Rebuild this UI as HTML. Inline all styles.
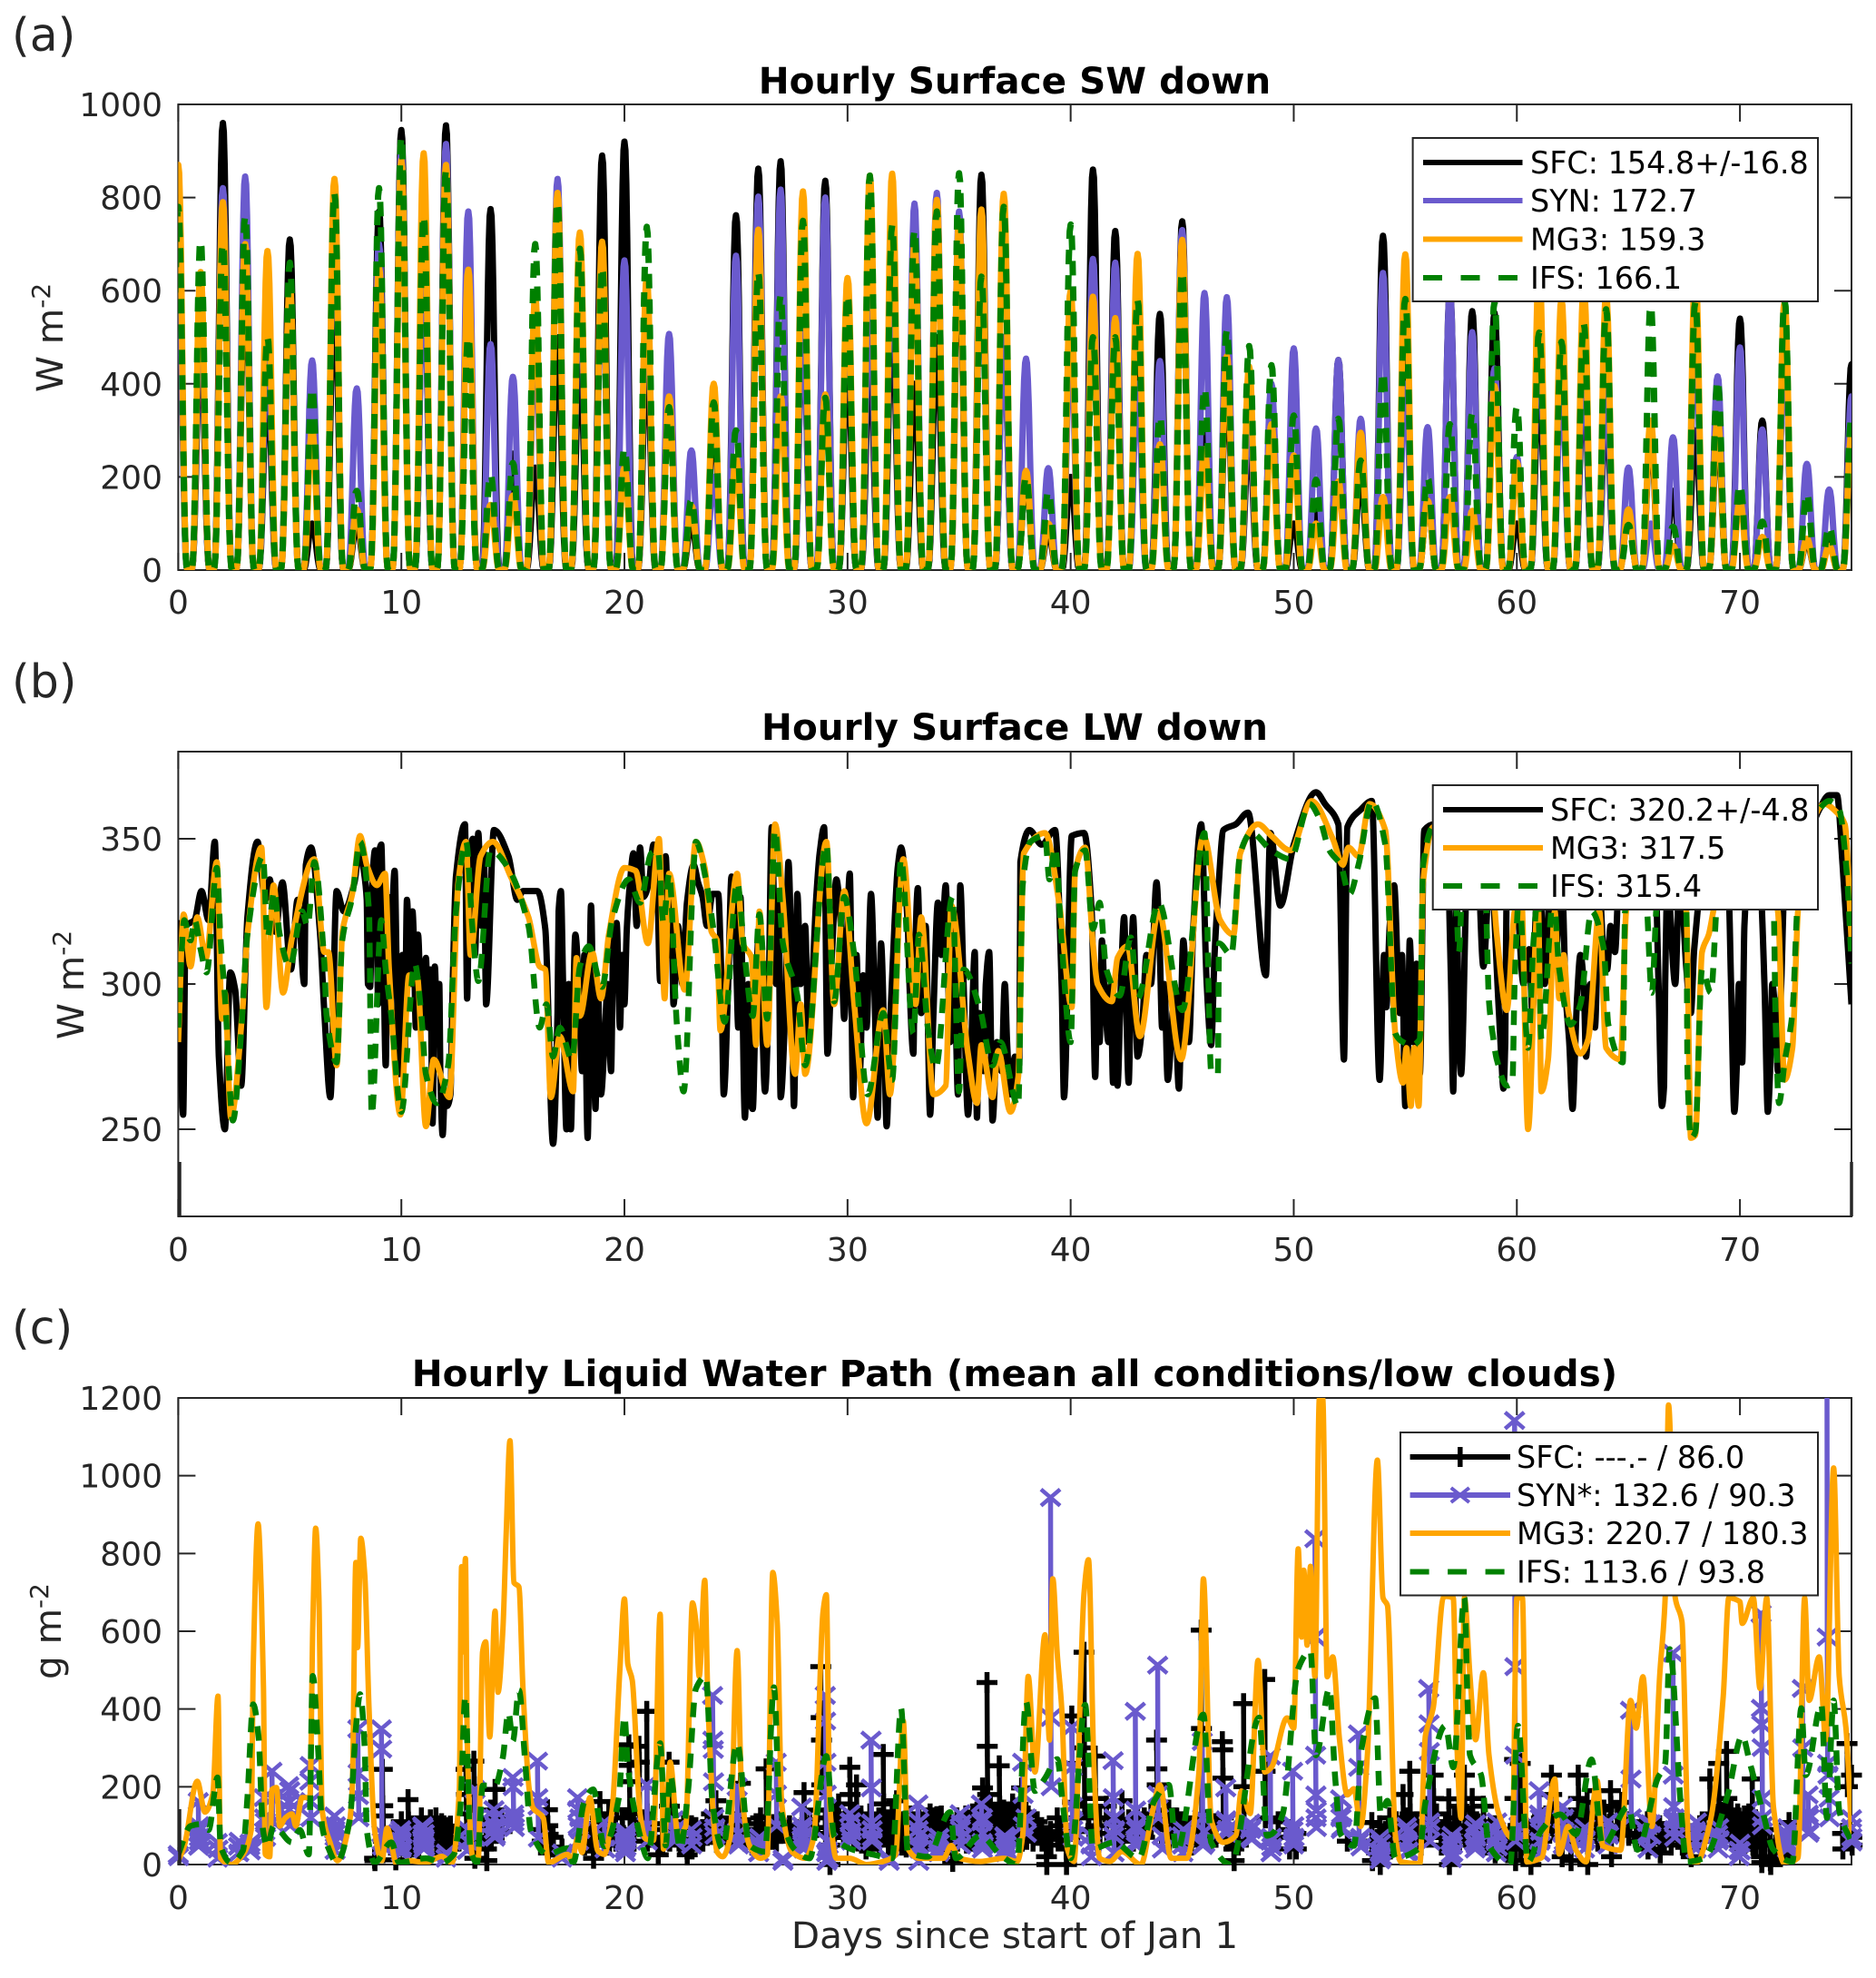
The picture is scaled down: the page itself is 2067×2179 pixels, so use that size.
<!DOCTYPE html>
<html lang="en">
<head>
<meta charset="utf-8">
<title>Hourly surface radiation and liquid water path</title>
<style>
html,body{margin:0;padding:0;background:#fff;}
svg{display:block;font-family:"DejaVu Sans","Liberation Sans",sans-serif;}
.tick-label{font-size:36px;fill:#262626;}
.title{font-size:40.5px;font-weight:bold;fill:#000;text-anchor:middle;}
.axis-title{font-size:40.5px;fill:#262626;text-anchor:middle;}
.panel-label{font-size:50.5px;fill:#262626;}
.legend-text{font-size:33.4px;fill:#000;}
.legend-box{fill:#fff;stroke:#262626;stroke-width:2;}
</style>
</head>
<body>
<svg id="figure" xmlns="http://www.w3.org/2000/svg" width="2067" height="2179" viewBox="0 0 2067 2179">
  <defs>
    <clipPath id="clip-a"><rect x="196.4" y="115" width="1843.6" height="513"/></clipPath>
    <clipPath id="clip-b"><rect x="196.4" y="828" width="1843.6" height="512"/></clipPath>
    <clipPath id="clip-c"><rect x="196.4" y="1540" width="1843.6" height="514"/></clipPath>
  </defs>
  <rect width="2067" height="2179" fill="#fff"/>

  <text class="panel-label" x="13" y="56">(a)</text>
  <text class="panel-label" x="13" y="768">(b)</text>
  <text class="panel-label" x="13" y="1480">(c)</text>

  <text class="title" x="1118" y="103">Hourly Surface SW down</text>
  <text class="title" x="1118" y="815">Hourly Surface LW down</text>
  <text class="title" x="1118" y="1527">Hourly Liquid Water Path (mean all conditions/low clouds)</text>

  <text class="axis-title" transform="translate(69,372) rotate(-90)">W m<tspan font-size="28" dy="-14">-2</tspan></text>
  <text class="axis-title" transform="translate(92,1085) rotate(-90)">W m<tspan font-size="28" dy="-14">-2</tspan></text>
  <text class="axis-title" transform="translate(67,1797) rotate(-90)">g m<tspan font-size="28" dy="-14">-2</tspan></text>
  <text class="axis-title" x="1118" y="2146">Days since start of Jan 1</text>

  <g id="plot-layer"></g>

  <line x1="198" y1="1280" x2="198" y2="1340" stroke="#262626" stroke-width="3.5"/>
  <line x1="2040" y1="1280" x2="2040" y2="1340" stroke="#262626" stroke-width="3.5"/>
  <line x1="198" y1="1993" x2="198" y2="2054" stroke="#262626" stroke-width="3.5"/>

  <g>
    <rect class="legend-box" x="1556.6" y="152" width="446.4" height="180"/>
    <line x1="1568" y1="179" x2="1677.5" y2="179" stroke="#000" stroke-width="6"/>
    <text class="legend-text" x="1686" y="191">SFC: 154.8+/-16.8</text>
    <line x1="1568" y1="221" x2="1677.5" y2="221" stroke="#6a5acd" stroke-width="6"/>
    <text class="legend-text" x="1686" y="233">SYN: 172.7</text>
    <line x1="1568" y1="263.5" x2="1677.5" y2="263.5" stroke="#ffa500" stroke-width="6"/>
    <text class="legend-text" x="1686" y="275.5">MG3: 159.3</text>
    <line x1="1568" y1="306" x2="1677.5" y2="306" stroke="#008000" stroke-width="6" stroke-dasharray="21 20.5"/>
    <text class="legend-text" x="1686" y="318">IFS: 166.1</text>
  </g>

  <g>
    <rect class="legend-box" x="1578.7" y="865" width="424.3" height="137"/>
    <line x1="1590" y1="892" x2="1700" y2="892" stroke="#000" stroke-width="6"/>
    <text class="legend-text" x="1708" y="904">SFC: 320.2+/-4.8</text>
    <line x1="1590" y1="934" x2="1700" y2="934" stroke="#ffa500" stroke-width="6"/>
    <text class="legend-text" x="1708" y="946">MG3: 317.5</text>
    <line x1="1590" y1="976" x2="1700" y2="976" stroke="#008000" stroke-width="6" stroke-dasharray="21 20.5"/>
    <text class="legend-text" x="1708" y="988">IFS: 315.4</text>
  </g>

  <g>
    <rect class="legend-box" x="1543" y="1578" width="460" height="179.5"/>
    <line x1="1553.6" y1="1605" x2="1664" y2="1605" stroke="#000" stroke-width="6"/>
    <path d="M1608.8 1594V1616" stroke="#000" stroke-width="5.5" fill="none"/>
    <text class="legend-text" x="1671" y="1617">SFC: ---.- / 86.0</text>
    <line x1="1553.6" y1="1647" x2="1664" y2="1647" stroke="#6a5acd" stroke-width="6"/>
    <path d="M1598.8 1639L1618.8 1655M1598.8 1655L1618.8 1639" stroke="#6a5acd" stroke-width="4" fill="none"/>
    <text class="legend-text" x="1671" y="1659">SYN*: 132.6 / 90.3</text>
    <line x1="1553.6" y1="1689" x2="1664" y2="1689" stroke="#ffa500" stroke-width="6"/>
    <text class="legend-text" x="1671" y="1701">MG3: 220.7 / 180.3</text>
    <line x1="1553.6" y1="1731.5" x2="1664" y2="1731.5" stroke="#008000" stroke-width="6" stroke-dasharray="21 20.5"/>
    <text class="legend-text" x="1671" y="1743.5">IFS: 113.6 / 93.8</text>
  </g>
</svg>

<script>
/* ---- tick labels ---- */
const xTickValues = [0,10,20,30,40,50,60,70];
const swYTicks = [0,200,400,600,800,1000];
const lwYTicks = [250,300,350];
const lwpYTicks = [0,200,400,600,800,1000,1200];

/* ---- panel (a): daily peak of each series, one value per day 0..75 ---- */
const swSfcPeaks = [800,500,960,650,400,710,100,600,100,770,
945,650,955,680,775,250,220,500,450,890,
920,450,414,100,340,762,862,878,520,836,
450,450,540,400,500,700,849,500,200,80,
200,860,728,560,550,749,300,400,280,380,
100,130,451,200,718,500,150,600,556,552,
100,400,450,400,340,130,300,170,300,300,
540,321,500,60,60,442];
const swSynPeaks = [680,590,820,845,500,600,450,800,390,700,
900,650,915,770,485,415,500,840,650,650,
665,600,507,257,200,675,802,817,540,800,
600,600,700,787,810,770,700,500,454,219,
500,668,660,400,449,730,595,586,350,400,
476,304,451,325,638,400,307,596,511,433,
243,520,400,450,400,220,100,285,500,416,
478,302,500,228,173,373];
const swMg3Peaks = [870,640,790,700,685,610,300,840,130,650,
880,895,870,645,140,160,585,810,725,705,
220,627,373,138,400,240,731,373,813,377,
627,847,851,700,795,750,774,808,213,100,
600,587,541,679,270,709,260,459,437,313,
246,100,190,295,157,678,149,157,127,395,
231,650,580,610,590,130,321,52,640,325,
149,71,575,67,52,291];
const swIfsPeaks = [780,707,700,760,500,660,390,810,170,820,
930,760,860,500,205,230,700,790,690,650,
260,737,350,150,360,300,640,590,750,370,
590,847,740,730,770,852,630,780,200,168,
742,500,500,580,330,640,390,515,481,440,
332,194,325,235,425,582,198,313,336,575,
350,510,490,530,560,97,567,93,575,407,
183,104,578,164,93,328];
/* fraction of the daily peak reached 0,1,2..12 hours from local noon */
const diurnalShape = [1,.98,.9,.77,.59,.41,.25,.12,.04,.008,0,0,0];

/* ---- panel (b) ---- */
const lwSfcDays = [0,.22,.33,.73,1.04,1.36,1.64,1.82,2.09,2.33,
2.55,2.82,3.1,3.55,3.9,4.1,4.35,4.67,5.05,5.35,
5.65,5.72,5.95,6.35,6.55,6.82,7.1,7.42,7.9,8.15,
8.45,8.6,8.82,8.96,9.1,9.3,9.7,9.9,10.25,10.55,
10.75,10.9,11.1,11.4,11.5,11.75,11.85,12.2,12.45,12.85,
12.95,13.2,13.45,13.8,14.15,14.8,15.2,15.45,16.1,16.45,
16.8,17.15,17.4,17.6,17.8,18.35,18.5,18.7,19.1,19.65,
20,20.25,20.7,21.3,21.6,21.85,22.2,22.8,23.1,23.95,
24.2,24.45,24.8,25.4,25.75,26.05,26.3,26.6,27,27.35,
27.6,27.75,28.4,28.95,29.1,29.5,29.85,30.1,30.25,30.7,
31.05,31.35,31.5,31.75,32.4,32.95,33.15,33.7,34.05,34.4,
34.95,35.05,35.4,35.7,35.8,36.35,36.5,37.05,37.3,37.7,
37.75,38.15,38.7,39.3,39.6,39.7,40.05,40.6,40.95,41.1,
41.5,41.9,42.1,42.4,42.6,42.8,43.2,43.85,44.35,44.85,
45.05,45.3,45.5,45.85,46.3,46.6,46.85,47.4,47.95,48.75,
48.95,49.4,50,51,51.4,52,52.25,52.4,53,53.5,
53.85,54.15,54.5,55,55.2,55.5,55.65,55.85,56.3,56.9,
57,57.15,57.3,57.5,57.8,58.2,58.5,58.8,59.4,59.55,
60,60.3,60.55,61,61.5,62,62.5,62.85,63.1,63.7,
64.05,64.4,64.6,65.5,66.2,66.5,66.75,67.3,67.95,68.4,
69,69.5,69.75,70.1,70.4,70.9,71.25,71.6,72,72.5,
73,73.55,74,74.35,74.6,75];
const lwSfcValues = [322,255,320,322,332,322,349,275,250,304,
298,265,323,349,329,336,318,335,305,329,
300,341,347,318,290,261,332,325,335,348,
329,299,346,293,348,272,339,269,329,318,
317,287,309,252,306,269,248,262,337,355,
295,350,352,293,353,344,329,332,332,319,
245,332,250,250,317,247,327,257,279,321,
293,335,347,348,301,344,293,328,341,331,
331,262,337,254,257,320,263,354,261,342,
258,331,298,354,276,336,288,338,261,303,
331,254,314,251,347,276,333,255,328,334,
262,334,255,311,254,311,253,300,262,272,
342,353,348,353,299,261,351,352,324,268,
300,266,265,323,266,323,285,335,267,264,
315,280,320,355,279,330,353,355,359,303,
352,327,348,366,362,355,274,354,360,363,
267,292,334,258,315,307,269,353,355,345,
317,263,330,269,345,350,306,340,264,340,
345,300,312,340,335,340,257,310,275,335,
305,311,340,345,340,258,335,340,312,340,
340,330,256,273,340,335,256,287,335,345,
350,360,365,365,341,293];
/* additional SFC wiggles in the noisy stretches; merged with the series above by day */
const lwSfcExtraDays = [8.3,8.5,8.7,8.9,9.0,9.2,9.4,9.5,9.6,9.8,
10.05,10.15,10.4,10.5,10.65,11.0,11.2,11.3,11.6,11.7,
11.95,12.05,12.3,13.05,13.3,13.6,13.7,17,17.05,17.25,
17.5,17.7,17.95,18.1,18.2,18.6,18.8,18.95,19.25,19.4,
19.5,19.8,19.9,20.1,20.4,20.55,20.85,21.1,21.45,22,
22.1,22.4,22.6,23.3,23.5,23.7,24.35,24.65,25,25.1,
25.2,25.55,25.6,25.9,26.15,26.45,26.8,26.9,27.2,27.5,
27.9,28.1,28.25,28.6,28.75,29.3,29.7,30.4,30.55,30.85,
31.2,31.65,31.9,32.1,32.25,32.7,32.8,33,33.3,33.5,
33.85,34.2,34.6,34.75,35.2,35.55,35.9,36.1,36.2,36.7,
36.9,37.15,37.5,41.2,41.3,41.4,41.7,41.8,42,42.25,
42.5,42.7,43,43.4,43.6,44,44.1,44.2,44.5,44.65,
46.1,46.45,54.05,54.3,54.75,54.85,55.1,55.35,55.58,57.05,
57.2,57.4,59.2,59.3,59.48,60.1,60.7,60.85,61.25,61.75,
62.2,62.35,62.6,62.7,63,63.3,63.5,63.85,64.2,66.35,
66.6,66.65,67.1,67.6,67.8,69.6,69.85,69.95,70.2,71.1,
71.35,71.45,71.7,71.85];
const lwSfcExtraValues = [340,300,335,320,345,310,330,290,325,300,
310,275,300,325,285,300,285,305,285,300,
262,258,300,340,310,320,345,290,325,300,
300,290,300,270,310,290,300,262,300,270,
315,285,310,318,345,320,330,335,340,310,
330,320,300,335,330,320,300,300,310,285,
330,300,262,300,295,290,300,330,290,300,
300,320,280,330,345,310,320,310,270,285,
300,280,285,320,340,320,295,300,290,320,
290,310,280,320,300,280,290,270,300,280,
270,280,275,300,280,315,280,300,295,300,
290,300,275,310,300,310,285,300,280,300,
300,310,310,320,290,310,270,280,280,300,
290,285,290,275,280,320,290,325,300,310,
295,280,275,295,300,300,285,315,320,300,
265,300,300,305,290,300,270,300,320,300,
270,300,270,300];

const lwMg3Days = [0,.24,.55,.85,1.24,1.73,1.96,2.09,2.36,2.9,
3.1,3.73,3.95,4.27,4.7,5.1,6.1,6.55,6.73,7.1,
7.36,7.8,8.15,8.45,8.9,9.27,9.45,9.96,10.35,10.7,
11.1,11.45,12.15,12.55,12.9,13.1,13.55,14.1,14.9,15.7,
16.2,16.45,16.7,17.1,17.7,17.85,18,18.55,18.95,19.3,
20,20.5,21.05,21.55,21.8,22,22.7,23.2,23.6,23.9,
24.15,24.3,25.05,25.3,25.7,25.9,26.05,26.4,26.75,27.1,
27.65,27.9,28.1,29.05,29.4,29.85,30.3,30.85,31.6,31.9,
32.5,33.05,33.3,33.85,34.4,34.65,35.4,35.8,36,36.5,
36.75,37.3,37.65,37.9,38.85,39.5,40.05,40.2,40.65,41,
41.2,41.85,42.1,42.55,43.1,43.95,44.95,45.95,46.7,47.3,
47.6,48.4,49,49.85,50.8,51.75,52.2,52.45,52.9,53.4,
54.1,54.55,54.9,55.05,55.25,55.4,55.6,55.8,56.25,57,
58,58.85,59.1,59.55,59.9,60.2,60.5,60.95,61.1,61.4,
61.7,61.9,62.1,62.3,62.85,63.2,63.7,64,64.65,64.9,
65.5,66.5,67.3,67.6,67.8,68,68.3,68.6,68.95,70,
71,71.7,72,72.35,72.6,73,73.8,74.35,74.7,75];
const lwMg3Values = [280,324,306,323,309,342,288,297,254,293,
317,347,292,334,297,316,343,311,311,272,
318,331,351,341,334,338,305,255,303,303,
251,274,261,335,349,310,344,349,337,323,
306,305,261,282,263,309,289,311,295,317,
340,339,314,350,295,338,298,349,340,318,
315,284,338,314,309,279,325,279,355,329,
269,293,269,349,293,332,293,252,291,262,
343,293,323,262,265,327,276,259,279,261,
277,256,268,345,352,327,292,339,347,314,
300,294,309,313,282,325,274,351,322,317,
345,355,351,346,363,350,341,347,344,362,
353,283,266,278,258,278,258,335,354,352,
350,340,317,291,325,330,250,328,263,274,
325,295,310,291,276,281,325,278,274,325,
345,345,340,325,247,248,311,317,330,345,
345,325,267,278,325,350,362,359,355,315];

const lwIfsDays = [0,.27,.55,.73,1,1.27,1.73,1.9,2.1,2.45,
2.8,3.1,3.8,4,4.3,4.55,5,5.55,5.8,6.1,
6.55,6.65,7.1,7.35,7.8,8.15,8.55,8.67,9.1,9.3,
9.55,10,10.6,10.9,11.1,11.6,12.1,12.45,12.9,13.2,
13.45,14,14.7,15.7,16.2,16.5,16.8,17.1,17.65,18,
18.4,19,19.45,20.2,20.7,21.2,21.5,21.75,22,22.35,
22.65,23.1,23.2,23.65,24,24.5,25.05,25.4,25.75,26.05,
26.4,26.75,27.1,27.75,28.1,29.05,29.4,29.85,30.3,30.9,
31.6,32,32.4,32.95,33.2,33.6,33.95,34.7,35,35.2,
35.95,36.5,36.85,37.65,37.85,38.2,38.85,39.05,39.3,39.6,
40,40.2,40.65,41,41.3,41.6,42.2,42.7,43,43.95,
45,46,46.3,46.6,46.65,47.2,47.6,48.1,49,49.85,
50.7,51.15,51.6,52.1,52.5,52.9,53.5,54.1,54.55,54.9,
55.3,55.65,55.8,56.25,57,57.3,57.4,57.6,58.3,58.6,
58.7,58.75,58.95,59.1,59.55,59.8,59.9,60.1,60.5,60.75,
60.95,61.1,61.65,61.9,62.4,62.85,63.35,63.9,64.1,64.75,
64.85,65.5,65.8,66.05,66.3,67,67.6,67.65,67.8,68,
68.3,68.7,69,70,71,71.5,71.6,71.75,72,72.35,
72.6,73,73.55,74,74.45,74.8,75];
const lwIfsValues = [285,322,315,322,312,304,340,315,295,253,
281,317,344,316,332,317,306,325,320,342,
307,289,273,315,330,349,325,255,322,305,
289,256,307,289,269,259,272,325,349,318,
301,346,341,320,285,293,275,285,274,306,
313,299,322,336,328,345,346,321,338,286,
263,340,349,336,318,287,335,309,289,324,
288,353,314,296,272,348,294,330,310,262,
290,267,343,283,317,285,271,330,263,305,
291,272,280,258,334,349,351,336,347,314,
280,339,346,319,328,305,296,316,295,328,
291,352,270,269,314,310,345,352,346,343,
362,357,346,341,331,341,363,348,283,280,
279,281,341,354,350,325,311,340,345,330,
305,294,281,274,265,266,300,330,278,315,
330,281,330,305,286,293,325,312,286,273,
325,345,330,297,330,340,325,269,247,249,
305,297,330,345,345,330,287,259,273,290,
330,350,360,363,360,337,307];

/* ---- panel (c) ---- */
const lwpMg3Days = [0,.27,.85,1.2,1.55,1.78,1.9,2.36,2.9,3.27,
3.36,3.58,3.73,3.82,3.9,4.1,4.2,4.4,4.55,4.8,
5.1,5.27,5.55,5.9,6.03,6.16,6.3,6.45,6.8,7.13,
7.65,7.8,7.96,8.04,8.18,8.36,8.55,8.8,9.13,9.36,
9.8,10.35,11.1,11.8,12.27,12.6,12.7,12.76,12.87,12.96,
13.2,13.45,13.64,13.78,13.96,14.2,14.33,14.55,14.7,14.87,
15.05,15.27,15.45,15.73,15.9,16.36,16.6,17.45,17.65,17.9,
18.1,18.45,18.8,19.1,19.45,19.8,20,20.15,20.35,20.7,
20.95,21.3,21.6,21.75,22.05,22.4,22.75,23.05,23.2,23.35,
23.6,23.75,24.15,24.4,24.75,25.05,25.25,25.6,26.1,26.4,
26.65,26.85,27.05,27.5,28.1,28.5,28.9,29.05,29.2,29.5,
30.1,30.85,31.6,32.15,32.5,32.7,33.2,34.3,34.65,35,
35.95,37,37.6,37.85,38.1,38.4,38.85,39.05,39.2,39.4,
39.6,39.85,40.15,40.6,40.8,41.05,41.3,41.75,42.3,43.15,
43.65,44,44.5,45.2,45.75,45.95,46.3,46.85,47.4,47.65,
48.05,48.4,48.7,49,49.7,50,50.2,50.35,50.45,50.6,
50.75,50.95,51.15,51.3,51.5,51.75,52.05,52.4,52.7,53,
53.3,53.75,54,54.2,54.55,54.8,55.65,55.9,56.25,56.7,
56.8,57.15,57.3,57.5,57.65,57.9,58.15,58.5,58.75,59.2,
59.8,60,60.25,60.45,61.1,61.7,61.9,62.3,62.65,63.1,
63.6,63.85,64.65,65.1,65.35,65.65,66.05,66.4,66.65,66.8,
67.1,67.4,67.7,68,68.7,69.25,69.5,70,70.1,70.6,
70.9,71.2,71.5,72,72.6,72.9,73.1,73.55,73.85,74.2,
74.45,74.75,75];
const lwpMg3Values = [10,47,214,135,182,433,16,0,26,89,
506,876,683,454,26,20,193,198,99,120,
130,99,172,172,610,865,693,141,57,10,
99,193,777,558,839,745,401,89,10,94,
0,10,5,21,5,193,766,547,787,297,
20,16,547,573,328,652,443,605,850,1090,
725,714,454,193,146,120,5,26,10,68,
31,172,36,26,141,506,683,516,474,131,
66,62,644,40,263,74,99,673,624,484,
731,402,33,20,74,550,197,49,16,25,
751,620,156,33,16,74,649,694,156,16,
16,0,8,25,369,41,16,16,49,16,
8,16,8,74,484,238,591,320,735,542,
402,41,8,698,784,238,16,8,33,0,
131,205,16,16,238,735,115,57,74,189,
131,525,238,250,377,351,812,585,757,564,
767,483,1198,1198,483,534,321,179,195,98,
281,1040,686,666,78,7,2,331,402,686,
690,686,331,119,686,483,321,493,281,129,
68,686,686,7,17,220,27,98,37,7,
215,48,37,422,351,483,98,483,686,1182,
686,625,48,2,119,433,686,676,620,686,
453,686,149,2,17,686,422,534,321,1020,
483,351,78];

const lwpIfsDays = [0,.55,1,1.36,1.76,1.9,2.36,2.9,3.1,3.36,
3.6,3.8,4,4.27,5.1,5.45,5.85,6.03,6.27,6.45,
6.7,7.1,7.7,7.96,8.15,8.36,8.45,8.8,9.55,9.9,
11.1,11.8,12.35,12.64,12.87,13.1,13.4,13.65,14.2,14.55,
14.8,15,15.27,15.55,15.8,16.55,17.45,17.7,18.2,18.6,
19.1,19.75,20,20.15,20.7,21.05,21.6,21.85,22.05,22.5,
22.85,23.2,23.65,23.95,24.4,25.05,25.6,26.3,26.7,26.95,
27.6,28.3,29.05,29.4,30.1,31.2,32,32.4,32.7,33.6,
34.6,34.85,35.95,36.85,37.6,38,38.4,38.85,39.4,39.65,
40,40.65,41,41.95,43.05,43.75,44.4,44.75,45.95,46.3,
47.2,48.45,48.8,49,49.5,50.2,50.75,51,51.6,51.85,
52.1,52.7,53.05,53.65,53.9,54.2,54.55,55.65,55.9,56.8,
57.15,57.65,57.8,57.9,58.4,58.75,59.7,60.05,60.5,61.1,
61.95,62.65,63.35,63.85,65,65.4,66.3,66.65,66.85,67.35,
67.6,68.4,69.45,70.1,70.45,71.05,71.5,72.35,72.75,72.95,
73.65,73.9,74.2,74.45,75];
const lwpIfsValues = [26,99,104,89,224,47,5,36,172,412,
328,89,47,99,57,89,26,485,297,99,
47,5,120,349,438,297,89,5,57,5,
16,5,26,141,433,36,5,203,203,276,
391,318,448,266,89,26,42,5,162,193,
47,172,381,255,74,16,312,49,230,41,
189,452,484,156,41,312,49,33,456,156,
41,16,279,74,41,25,16,402,33,20,
135,16,74,25,0,419,189,222,271,156,
16,411,41,57,16,164,205,33,386,57,
0,378,74,78,129,504,549,281,453,230,
78,48,301,428,129,164,17,43,159,357,
250,686,402,281,230,48,0,357,7,88,
129,78,270,48,149,38,220,260,554,149,
7,17,179,331,260,129,38,7,402,230,
412,120,422,139,58];

/* SYN* observations come in short groups; each group has one time and several values */
const lwpSynDays = [0,.9,1.75,2.7,3.2,3.85,4.2,4.95,5.9,7,
8.05,9.1,9.95,10.95,12,12.95,13.3,14.15,15,16.1,
17.2,17.9,19.1,20,21,22.2,23,23.95,25.05,26,
26.8,27.1,27.95,29,30.1,31.05,31.85,33.15,34.05,35.05,
36,37.05,37.85,39.1,40.05,40.9,41.9,42.9,43.9,44.1,
45,45.9,46.95,48.05,48.95,49.95,50.95,52.1,52.9,53.85,
55.05,56.05,57.05,58.1,59.05,59.9,61,62.05,63,64.05,
65.1,65.85,67,68,69,69.95,70.95,72.1,72.8,73.05,
73.9,75];
const lwpSynValues = [[26,20],[162,47,100,60],[57,16,40],[47,30,60],[47,55,35],[172,120,85],[240,170,110],[203,162,141,190],[214,255,162,120],[125,89,36,100],
[349,235,177,120],[349,297,80,60,47],[57,80,40,30],[100,78,57,60,40],[16,30],[36,60,90],[193,120,70],[141,89,120,70],[224,200,130,109],[266,172,150,68],
[16,30],[172,141,100,60],[109,70,40],[57,40,80,30],[205,100,60],[115,70,85],[90,50,70],[435,320,296,213,120],[200,120,57],[57,30],
[263,181,100],[8,15],[148,100,74,50],[435,369,263,181,30,8],[131,110,70],[320,197,107,60],[16,8],[156,90,50,8],[57,40,30],[131,90,50],
[156,110,57,40],[74,60,40,30],[263,180,100],[944,378,200],[353,250,150,90],[74,50,20],[267,172,74,30],[394,140,100,49],[513,180,120],[74,40],
[74,50,30],[316,120,49],[197,115,80],[107,90,70],[279,60,30],[240,88,60,50],[838,585,281,179,139],[169,120,90],[336,250,60],[68,30,12],
[98,60,30],[453,362,291,110],[60,27,15],[58,90,40],[88,60,30],[1142,509,281,60],[190,130,60,30],[149,80,50],[78,60,40],[108,80,50],
[397,220,120],[108,80,40],[544,230,149,110],[88,60,40],[78,60,40],[37,20],[645,402,360,301,100],[58,80,40],[453,300,100],[179,130,80],
[1250,585,260,230],[118,58]];
/* tight low SYN* clusters beside the groups above */
const lwpSynExtraDays = [.95,3.9,4.98,7.04,9.98,10.98,11.03,14.2,15.05,18,
20.04,22.25,24.05,25.1,26.05,28,29.1,30.15,31.1,33.2,
34.1,35.1,36.05,37.1,38,40.1,41.95,42.95,45.05,46,
47,48.1,49,50,51,52.15,53,53.9,55.1,56.1,
57.1,58.15,59.1,60.1,61.05,62.1,63.05,64.1,66,67.05,
68.05,69.05,70,71,72.15,73.1,74,75];
const lwpSynExtraValues = [[70,50,90],[110,70],[160,120,100],[80,60],[90,60,45,75],[95,70,50,80],[65,45],[100,75],[120,95],[120,90],
[85,60,45,70],[60,90],[95,75],[80,50],[70,45],[90,65,40],[60,35,15],[110,85,60],[90,70],[110,75,40],
[70,55,35],[105,70],[120,80,50],[70,50,35],[120,80],[110,70],[120,90],[90,60],[90,65],[85,55],
[110,90],[95,65],[70,45],[100,70],[120,95],[130,95],[70,45],[55,35,20],[85,55,35],[95,60],
[75,50,30],[105,70,50],[110,75,45],[100,70],[120,85],[120,85,60],[95,65],[110,75],[105,75],[120,90,70],
[110,80],[95,65],[55,35],[170,120],[95,70,50],[120,85],[170,120],[95,70]];

const lwpSfcDays = [8.8,9.15,9.75,10.3,10.75,11.1,11.55,12.2,12.9,13.25,
13.8,14.2,16.55,17.2,18.6,18.9,19.3,20.2,20.65,21,
21.5,22,22.5,22.8,23,23.5,24.1,24.6,25.2,25.7,
26.35,26.8,27.4,28.05,28.8,29.2,29.6,30.1,30.4,30.8,
31.2,31.6,32.2,32.6,33,33.5,34,34.4,34.7,35.1,
35.6,36.05,36.25,36.8,37.4,37.8,38.3,38.9,39.4,39.8,
40.05,40.6,41.1,41.6,42.3,42.8,43.3,43.85,44.4,44.9,
45.4,45.85,46.3,46.8,47.3,47.75,48.7,49.3,49.8,50.1,
52.4,53.5,53.85,54.3,54.9,55.2,55.5,55.9,56.25,56.6,
56.95,57.4,57.65,58,58.5,59,59.5,59.9,60.15,60.6,
61.1,61.55,62,62.4,62.75,63.15,63.6,64.2,64.7,65.35,
65.85,66.4,66.9,67.4,67.8,68.2,68.65,69.05,69.4,69.8,
70,70.55,70.95,71.35,71.8,72.2,74.6,74.8,75];
const lwpSfcValues = [[16,10],[245,151,125,60],[12],[167,109,70,40],[80,60,40],[100,60],[120,90,50],[99,60,40],[245,180,70],[266,200,120,16],
[60,40,10],[193,120,80],[141,100,78,30],[40],[90,16],[162,120,70],[130,90,50],[308,255,213,141,80],[304,263,100],[394,130,60],
[50,25],[263,150,60],[80,50],[40,25],[100,57,40],[90,60],[164,115,57],[90,60],[209,115,70],[70,50],
[246,123,100],[90,60],[100,70],[185,100,60],[509,378,320,205],[50,0],[156,90],[250,180,110],[205,120,70],[90,60,40],
[100,60],[283,156,90],[164,100,60],[110,70,45],[110,80,50],[120,90,60],[123,100,70],[100,70,40],[60,8],[110,80],
[130,100,70],[197,120,110,90],[468,304,180],[254,150,100],[156,120,80],[197,100,60],[80,60],[74,20,0],[120,70],[40,0],
[382,260,160],[546,300,150],[279,170,100],[150,80],[164,110,60],[100,60],[120,70],[320,246,205,110],[140,90,60],[110,70],
[90,50],[603,350,120],[100,60],[316,295,222,120],[60,40,10],[414,200,80],[476,240,120],[110,70],[90,40],[80,40],
[60],[108,60,10],[100,40,0],[120,90,40],[180,100,60],[240,130,70],[110,60],[130,70],[230,170,100],[90,50],
[169,60,0],[150,100,60],[230,140,70],[170,90],[150,110,60],[100,60,30],[70,40],[270,170,90,10],[260,110,40],[90,30,0],
[120,60],[230,180,100],[130,70,20],[120,60,10],[230,170,80],[160,110,0],[190,110,60],[190,150,80,20],[160,90],[80,60],
[110,70,40],[100,60,30],[100,50],[90,50],[60,20],[100,60],[220,130,80],[260,150,90],[291,170,100],[120,90,60],
[110,70],[220,120,50],[80,20,5],[60,10,0],[60,20],[108,60],[80,40],[311,200],[230,70,50]];
/* low, closely packed SFC samples that form the dense band near the axis */
const lwpSfcExtraDays = [9.5,10,10.5,10.9,11.3,11.8,12,12.5,13,13.5,
14,14.5,16.3,16.8,18.2,18.4,19.1,19.6,19.9,20.4,
20.9,21.2,21.7,22.2,22.65,23.2,23.7,23.9,24.3,24.85,
25,25.4,25.9,26.1,26.6,27,27.7,28.3,28.6,29,
29.4,29.8,30.25,30.6,31,31.4,31.8,32,32.4,32.8,
33.2,33.7,33.9,34.2,34.55,34.9,35.3,35.5,35.8,36,
36.4,36.6,37,37.2,37.6,38,38.1,38.5,38.7,39.1,
39.6,40.3,40.8,41.3,41.9,42.1,42.6,43,43.6,44.2,
44.7,45.1,45.6,46.1,46.5,47,47.5,53.7,54.1,54.6,
55,55.7,56,56.4,56.8,57.2,57.9,58.2,58.8,59.3,
59.7,60.4,60.8,61.3,61.8,62.2,62.6,63,63.4,63.9,
64.5,65,65.6,66.1,66.6,67.2,67.6,68.4,68.9,69.2,
69.6,69.9,70.2,70.4,70.7,71.1,71.6,72];
const lwpSfcExtraValues = [[70,50],[110,85,60],[95,70,45],[120,90,60],[115,80,55],[105,75,50],[95,70],[85,60],[130,95,55],[115,70],
[140,100,60],[120,85],[90,60],[70,45],[75,50],[85,55],[110,70],[95,60],[120,85],[130,90,60],
[115,85],[105,70],[90,55],[110,80],[100,65],[95,60],[105,75],[130,90],[120,85],[100,70],
[110,75],[90,60],[105,70],[120,85],[95,65],[110,80],[90,60],[115,85],[140,95],[120,80],
[130,85],[110,70],[135,95,65],[125,85,55],[130,95,60],[120,85,55],[115,85,50],[125,90,60],[110,75,50],[125,90,60],
[115,85,55],[130,95,60],[120,85,55],[125,95,65],[110,80,50],[120,85,60],[125,90,55],[110,85,60],[135,100,70],[145,110,75],
[150,115,80],[135,100,70],[140,105,70],[130,95,60],[145,110,75],[135,100,65],[125,90],[110,75],[95,60],[85,50],
[100,65],[120,85],[130,90],[120,80],[115,80],[105,70],[115,85],[125,90],[130,95],[140,100],
[120,85],[110,75],[120,80],[115,85],[105,70],[95,60],[80,50],[60,30],[85,55],[110,80],
[120,85],[90,50],[110,75],[130,90],[105,70],[120,90],[125,85],[110,75],[95,60],[85,50],
[80,45],[85,50],[110,70],[125,85],[130,95],[110,70],[120,80],[125,90],[130,95],[140,100],
[125,85],[110,75],[100,70],[90,60],[85,55],[95,65],[80,50],[95,65],[120,85,60],[135,100,70],
[140,105,70],[130,95,60],[125,90,55],[130,95,60],[115,80,45],[90,50],[50,20],[55,25]];

/* ---- axis functions ---- */
const NS = 'http://www.w3.org/2000/svg';
const plotLayer = document.getElementById('plot-layer');
const plotLeft = 196.4, plotRight = 2040, xMax = 75;
const panelA = {top:115, bottom:628, min:0, max:1000, clip:'clip-a', labelY:676};
const panelB = {top:828, bottom:1340, min:220, max:380, clip:'clip-b', labelY:1389};
const panelC = {top:1540, bottom:2054, min:0, max:1200, clip:'clip-c', labelY:2103};

function xOf(day){ return plotLeft + (day / xMax) * (plotRight - plotLeft); }
function yOf(panel, v){ return panel.bottom - ((v - panel.min) / (panel.max - panel.min)) * (panel.bottom - panel.top); }

function svgEl(tag, attrs){
  const el = document.createElementNS(NS, tag);
  for (const k in attrs) el.setAttribute(k, attrs[k]);
  plotLayer.appendChild(el);
  return el;
}

function drawAxes(panel, yTicks){
  const frame = svgEl('rect', {x:plotLeft, y:panel.top, width:plotRight-plotLeft, height:panel.bottom-panel.top, fill:'none', stroke:'#262626', 'stroke-width':2});
  
  
  const tickLen = 19;
  xTickValues.forEach(function(t){
    const x = xOf(t);
    const tick = svgEl('path', {d:'M'+x+' '+panel.bottom+'V'+(panel.bottom-tickLen)+'M'+x+' '+panel.top+'V'+(panel.top+tickLen), stroke:'#262626', 'stroke-width':2, fill:'none'});
    
    
    const label = svgEl('text', {x:x, y:panel.labelY, 'text-anchor':'middle', class:'tick-label'});
    label.textContent = String(t);
    
    
  });
  yTicks.forEach(function(t){
    const y = yOf(panel, t);
    const tick = svgEl('path', {d:'M'+plotLeft+' '+y+'H'+(plotLeft+tickLen)+'M'+plotRight+' '+y+'H'+(plotRight-tickLen), stroke:'#262626', 'stroke-width':2, fill:'none'});
    
    
    const label = svgEl('text', {x:179, y:y+13, 'text-anchor':'end', class:'tick-label'});
    label.textContent = String(t);
    
    
  });
}

/* monotone cubic curve through the samples so the lines read as smooth traces */
function seriesPath(panel, days, values){
  const n = Math.min(days.length, values.length);
  const xs = [], ys = [];
  for (let i = 0; i < n; i++){ xs.push(xOf(days[i])); ys.push(yOf(panel, values[i])); }
  const slope = [];
  for (let i = 0; i < n - 1; i++){
    const dx = xs[i+1] - xs[i];
    slope.push(dx > 0 ? (ys[i+1] - ys[i]) / dx : 0);
  }
  const tan = [];
  for (let i = 0; i < n; i++){
    if (i === 0) tan.push(slope[0] || 0);
    else if (i === n - 1) tan.push(slope[n-2] || 0);
    else if (slope[i-1] * slope[i] <= 0) tan.push(0);
    else tan.push(2 * slope[i-1] * slope[i] / (slope[i-1] + slope[i]));
  }
  let d = 'M' + xs[0].toFixed(1) + ' ' + ys[0].toFixed(1);
  for (let i = 0; i < n - 1; i++){
    const h = (xs[i+1] - xs[i]) / 3;
    d += 'C' + (xs[i]+h).toFixed(1) + ' ' + (ys[i]+tan[i]*h).toFixed(1) + ' ' +
         (xs[i+1]-h).toFixed(1) + ' ' + (ys[i+1]-tan[i+1]*h).toFixed(1) + ' ' +
         xs[i+1].toFixed(1) + ' ' + ys[i+1].toFixed(1);
  }
  return d;
}

/* merge two day/value series and order them by day */
function mergedPath(panel, daysA, valuesA, daysB, valuesB){
  const pairs = [];
  daysA.forEach(function(d, i){ pairs.push([d, valuesA[i]]); });
  daysB.forEach(function(d, i){ pairs.push([d, valuesB[i]]); });
  pairs.sort(function(p, q){ return p[0] - q[0]; });
  return seriesPath(panel, pairs.map(function(p){ return p[0]; }), pairs.map(function(p){ return p[1]; }));
}

function drawLine(panel, pathData, color, width, dash){
  const attrs = {d:pathData, fill:'none', stroke:color, 'stroke-width':width, 'stroke-linejoin':'round', 'clip-path':'url(#'+panel.clip+')'};
  if (dash) attrs['stroke-dasharray'] = dash;
  return svgEl('path', attrs);
}

/* expand daily peaks through the diurnal shape into an hourly curve */
function diurnalPath(panel, peaks){
  let d = '';
  peaks.forEach(function(peak, day){
    for (let h = -12; h < 12; h++){
      const v = peak * diurnalShape[Math.abs(h)];
      d += (d ? 'L' : 'M') + xOf(day + h / 24).toFixed(1) + ' ' + yOf(panel, v).toFixed(1);
    }
  });
  return d;
}

/* grouped observations: a vertical run of samples joined by a line, with a marker on each */
const groupStep = 0.015;
function groupPaths(panel, days, groups, markerFn){
  let lineD = '', markD = '';
  days.forEach(function(day, i){
    (groups[i] || []).forEach(function(v, j){
      const x = xOf(day + j * groupStep), y = yOf(panel, v);
      lineD += (j ? 'L' : 'M') + x.toFixed(1) + ' ' + y.toFixed(1);
      if (v <= panel.max) markD += markerFn(x, y);
    });
  });
  return {line:lineD, marks:markD};
}
function plusMark(x, y){ return 'M'+(x-11.5).toFixed(1)+' '+y.toFixed(1)+'h23M'+x.toFixed(1)+' '+(y-11.5).toFixed(1)+'v23'; }
function crossMark(x, y){ return 'M'+(x-10.5).toFixed(1)+' '+(y-9).toFixed(1)+'l21 18M'+(x-10.5).toFixed(1)+' '+(y+9).toFixed(1)+'l21 -18'; }

const BLACK = '#000000', PURPLE = '#6a5acd', ORANGE = '#ffa500', GREEN = '#008000';
const CHART_DASH = '16 12';

/* panel (a) */
drawAxes(panelA, swYTicks);
const swSfcLine = drawLine(panelA, diurnalPath(panelA, swSfcPeaks), BLACK, 7);


const swSynLine = drawLine(panelA, diurnalPath(panelA, swSynPeaks), PURPLE, 7);


const swMg3Line = drawLine(panelA, diurnalPath(panelA, swMg3Peaks), ORANGE, 7);


const swIfsLine = drawLine(panelA, diurnalPath(panelA, swIfsPeaks), GREEN, 7, CHART_DASH);



/* panel (b) */
drawAxes(panelB, lwYTicks);
const lwSfcLine = drawLine(panelB, mergedPath(panelB, lwSfcDays, lwSfcValues, lwSfcExtraDays, lwSfcExtraValues), BLACK, 7);


const lwMg3Line = drawLine(panelB, seriesPath(panelB, lwMg3Days, lwMg3Values), ORANGE, 6.5);


const lwIfsLine = drawLine(panelB, seriesPath(panelB, lwIfsDays, lwIfsValues), GREEN, 6.5, CHART_DASH);



/* panel (c) */
drawAxes(panelC, lwpYTicks);
const sfcGroups = groupPaths(panelC, lwpSfcDays, lwpSfcValues, plusMark);
const sfcExtraGroups = groupPaths(panelC, lwpSfcExtraDays, lwpSfcExtraValues, plusMark);
const lwpSfcLine = drawLine(panelC, sfcGroups.line + sfcExtraGroups.line, BLACK, 5.5);


const lwpSfcMarks = svgEl('path', {d:sfcGroups.marks + sfcExtraGroups.marks, fill:'none', stroke:BLACK, 'stroke-width':5.5});


const synGroups = groupPaths(panelC, lwpSynDays, lwpSynValues, crossMark);
const synExtraGroups = groupPaths(panelC, lwpSynExtraDays, lwpSynExtraValues, crossMark);
const lwpSynLine = drawLine(panelC, synGroups.line + synExtraGroups.line, PURPLE, 5.5);


const lwpSynMarks = svgEl('path', {d:synGroups.marks + synExtraGroups.marks, fill:'none', stroke:PURPLE, 'stroke-width':4.5});


const lwpMg3Line = drawLine(panelC, seriesPath(panelC, lwpMg3Days, lwpMg3Values), ORANGE, 6);


const lwpIfsLine = drawLine(panelC, seriesPath(panelC, lwpIfsDays, lwpIfsValues), GREEN, 6.5, CHART_DASH);


</script>
</body>
</html>
